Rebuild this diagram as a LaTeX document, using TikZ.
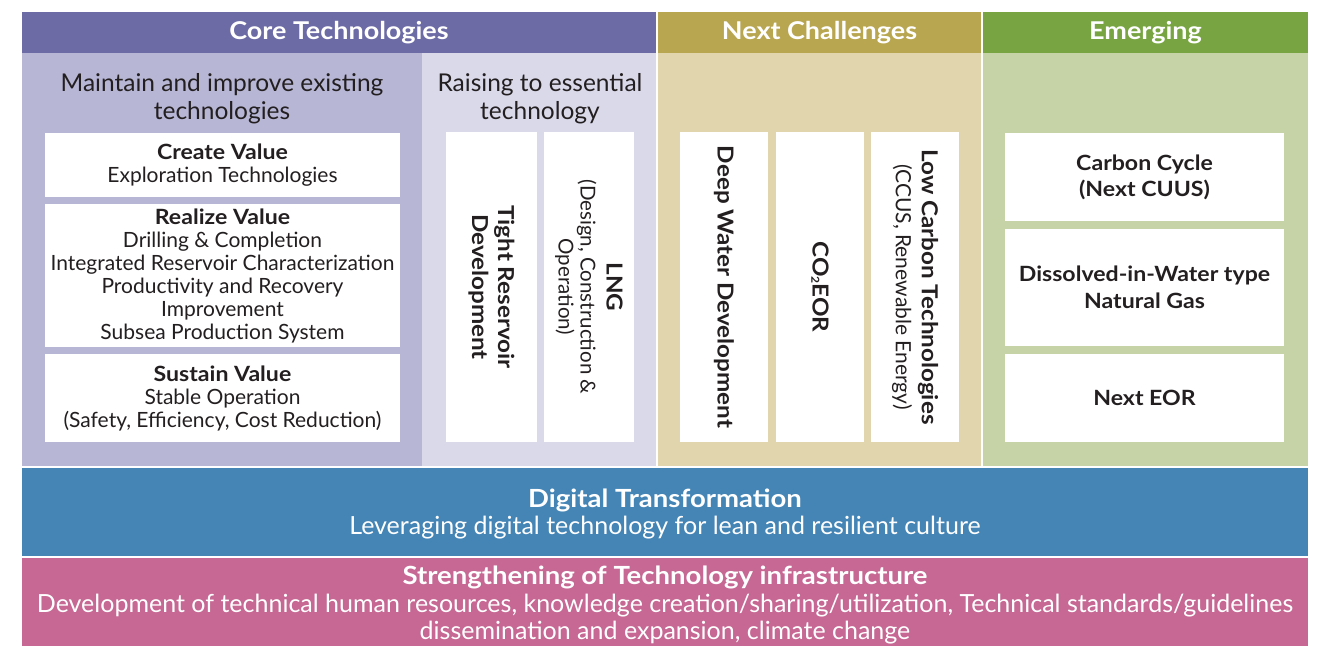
\documentclass[tikz,border=0pt]{standalone}
\usepackage{fontspec}
\setmainfont{Lato}[BoldFeatures={FakeStretch=1.1}]
\definecolor{hcoreC}{HTML}{6D6BA6}
\definecolor{bcoreLC}{HTML}{B7B6D5}
\definecolor{bcoreRC}{HTML}{DAD9EA}
\definecolor{hnextC}{HTML}{B9A651}
\definecolor{bnextC}{HTML}{E1D5AE}
\definecolor{hemerC}{HTML}{78A542}
\definecolor{bemerC}{HTML}{C5D3A7}
\definecolor{digiC}{HTML}{4485B6}
\definecolor{strC}{HTML}{C66893}
\definecolor{txtC}{HTML}{231F20}
\begin{document}
\begin{tikzpicture}[x=1pt,y=-1pt,
  panel/.style={rectangle,inner sep=0pt,outer sep=0pt,draw=none},
  header/.style={panel,text=white,font={\fontsize{24.5}{28}\selectfont\bfseries}},
  wbox/.style={panel,fill=white,text=txtC,align=center,font={\fontsize{21}{23}\selectfont}},
  vbox/.style={wbox,rotate=-90,font={\fontsize{22}{26}\selectfont}},
  subhead/.style={text=txtC,align=center,inner sep=0pt,font={\fontsize{24.5}{28}\selectfont}},
  bandtext/.style={text=white,align=center,inner sep=0pt,font={\fontsize{25}{27.5}\selectfont}}
]
\useasboundingbox (0,0) rectangle (1319,646);
\fill[white] (0,0) rectangle (1319,646);
% headers
\node[header,fill=hcoreC,minimum width=634,minimum height=41] (hcore) at (339,32.5) {Core Technologies};
\node[header,fill=hnextC,minimum width=323,minimum height=41] (hnext) at (819.5,32.5) {Next Challenges};
\node[header,fill=hemerC,minimum width=325,minimum height=41] (hemer) at (1145.5,32.5) {Emerging};
% bodies
\node[panel,fill=bcoreLC,minimum width=400,minimum height=413] (bcoreL) at (222,259.5) {};
\node[panel,fill=bcoreRC,minimum width=234,minimum height=413] (bcoreR) at (539,259.5) {};
\node[panel,fill=bnextC,minimum width=323,minimum height=413] (bnext) at (819.5,259.5) {};
\node[panel,fill=bemerC,minimum width=325,minimum height=413] (bemer) at (1145.5,259.5) {};
% sub headers
\node[subhead] (shL) at (222,99) {Maintain and improve existing\\technologies};
\node[subhead] (shR) at (540,99) {Raising to essential\\technology};
% core left boxes
\node[wbox,minimum width=355,minimum height=64] (create) at (222.5,165) {\textbf{Create Value}\\Exploration Technologies};
\node[wbox,minimum width=355,minimum height=143] (realize) at (222.5,275.5) {\textbf{Realize Value}\\Drilling \& Completion\\Integrated Reservoir Characterization\\Productivity and Recovery\\Improvement\\Subsea Production System};
\node[wbox,minimum width=355,minimum height=88] (sustain) at (222.5,398) {\textbf{Sustain Value}\\Stable Operation\\(Safety, Efficiency, Cost Reduction)};
% vertical boxes
\node[vbox,minimum width=310,minimum height=91] (tight) at (491.5,287) {\textbf{Tight Reservoir}\\\textbf{Development}};
\node[vbox,minimum width=310,minimum height=90,font={\fontsize{20.5}{22}\selectfont}] (lng) at (589,287) {{\fontsize{22}{22}\selectfont\bfseries LNG}\\[4pt](Design, Construction \&\\Operation)};
\node[vbox,minimum width=310,minimum height=88] (deep) at (724,287) {\textbf{Deep Water Development}};
\node[vbox,minimum width=310,minimum height=88] (co2) at (820,287) {\textbf{CO\raisebox{-0.1ex}{\fontsize{11}{11}\selectfont 2}EOR}};
\node[vbox,minimum width=310,minimum height=88] (lowc) at (915,287) {{\fontsize{22}{26}\selectfont\bfseries Low Carbon Technologies}\\{\fontsize{21}{26}\selectfont (CCUS, Renewable Energy)}};
% emerging boxes
\node[wbox,minimum width=279,minimum height=88,font={\fontsize{21}{26}\selectfont\bfseries}] (carbon) at (1144.5,177) {Carbon Cycle\\(Next CUUS)};
\node[wbox,minimum width=279,minimum height=117,font={\fontsize{21}{27}\selectfont\bfseries}] (dissolved) at (1144.5,287.5) {Dissolved-in-Water type\\Natural Gas};
\node[wbox,minimum width=279,minimum height=88,font={\fontsize{21}{25}\selectfont\bfseries}] (nexteor) at (1144.5,398) {Next EOR};
% bands
\node[panel,fill=digiC,minimum width=1286,minimum height=88] (digital) at (665,512) {};
\node[panel,fill=strC,minimum width=1286,minimum height=88] (strength) at (665,602) {};
\node[bandtext] (digitalT) at (665,514) {{\fontsize{25}{28}\selectfont\bfseries Digital Transformation}\\Leveraging digital technology for lean and resilient culture};
\node[bandtext] (strengthT) at (665,605) {{\fontsize{25}{28}\selectfont\bfseries Strengthening of Technology infrastructure}\\Development of technical human resources, knowledge creation/sharing/utilization, Technical standards/guidelines\\dissemination and expansion, climate change};
\end{tikzpicture}
\end{document}
